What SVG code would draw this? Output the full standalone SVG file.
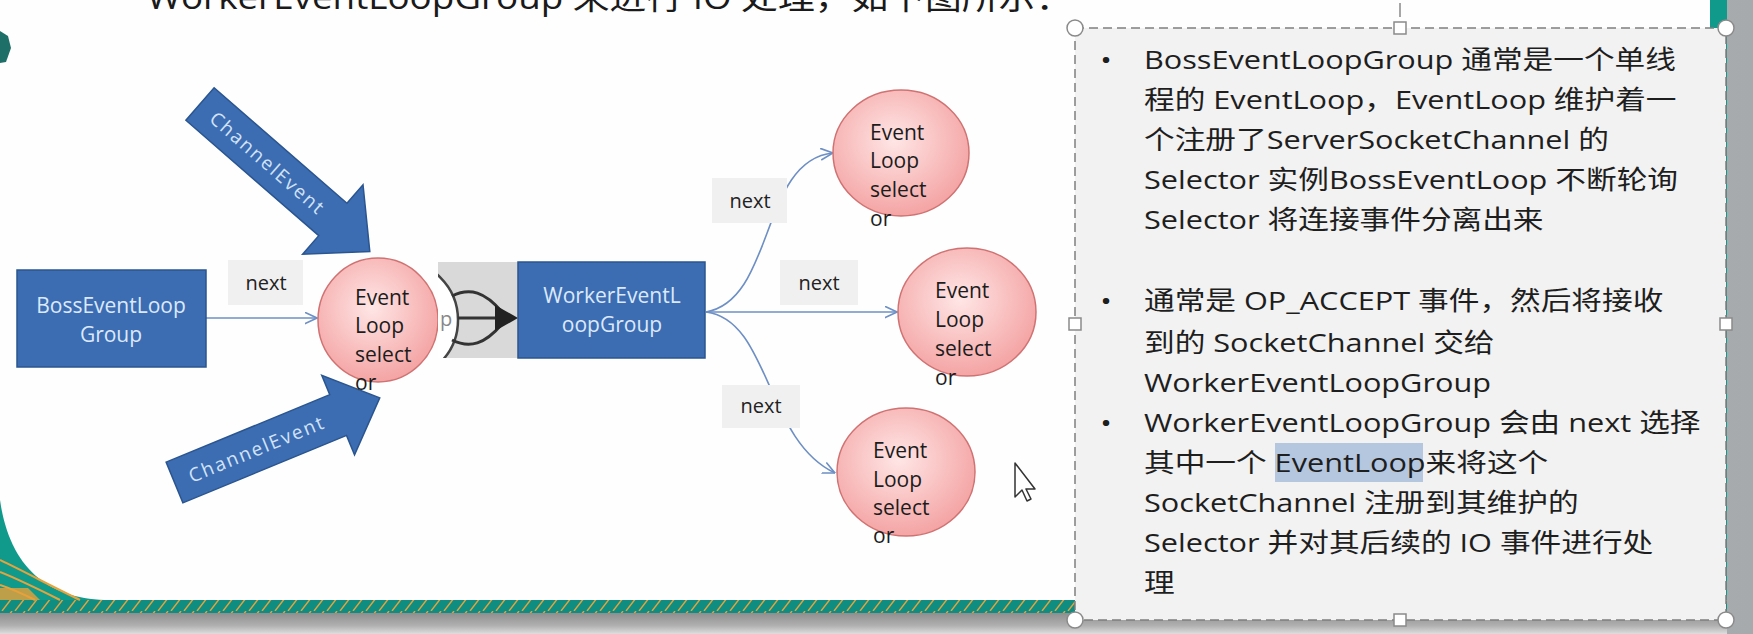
<svg xmlns="http://www.w3.org/2000/svg" width="1753" height="634" viewBox="0 0 1753 634">
<defs>
<radialGradient id="pink" cx="45%" cy="40%" r="62%">
<stop offset="0" stop-color="#ffe6e6"/>
<stop offset="1" stop-color="#f4a2a2"/>
</radialGradient>
<linearGradient id="rgray" x1="0" x2="1" y1="0" y2="0">
<stop offset="0" stop-color="#cfd2d4"/>
<stop offset="1" stop-color="#a6aaad"/>
</linearGradient>
<linearGradient id="bgray" x1="0" x2="0" y1="0" y2="1">
<stop offset="0" stop-color="#8e8e8e"/>
<stop offset="0.6" stop-color="#b0b0b0"/>
<stop offset="1" stop-color="#dedede"/>
</linearGradient>
<pattern id="band" width="26" height="13" patternUnits="userSpaceOnUse">
<rect width="26" height="13" fill="#0f8d80"/>
<path d="M2,13 L12,0 M15,13 L25,0" stroke="#e6a23c" stroke-width="1.4"/>
</pattern>
<marker id="open" viewBox="0 0 10 10" refX="9.5" refY="5" markerWidth="13" markerHeight="13" markerUnits="userSpaceOnUse" orient="auto">
<path d="M0,0.5 L9.5,5 L0,9.5" fill="none" stroke="#6d8fc4" stroke-width="1.2"/>
</marker>
<clipPath id="leftOfGray"><rect x="300" y="240" width="138" height="170"/></clipPath>
<clipPath id="inGray"><rect x="438" y="262" width="80" height="96"/></clipPath>
</defs>
<style>
.blue{fill:#3c6db3;stroke:#2a558f;stroke-width:1.5}
.btxt{font-family:"Open Sans","Noto Sans",sans-serif;font-size:21px;fill:#dce9fa;text-anchor:middle}
.atxt{font-family:"Open Sans","Noto Sans",sans-serif;font-size:19px;fill:#d3e3f7;text-anchor:middle;letter-spacing:2px}
.ctxt{font-family:"Open Sans","Noto Sans",sans-serif;font-size:21px;fill:#1c1c1c}
.circ{fill:url(#pink);stroke:#d07272;stroke-width:1.5}
.conn{fill:none;stroke:#6d8fc4;stroke-width:1.6;marker-end:url(#open)}
.nbox{fill:#f0f0f0}
.ntxt{font-family:"Open Sans","Noto Sans",sans-serif;font-size:20px;fill:#222;text-anchor:middle}
.bt{font-family:"Open Sans","Noto Sans CJK SC",sans-serif;font-size:26px;fill:#1e1e1e}
.handle{fill:#fff;stroke:#8a8a8a;stroke-width:1.5}
.fork{fill:none;stroke:#333;stroke-width:3}
</style>

<!-- background -->
<g id="background">
<rect x="0" y="0" width="1753" height="634" fill="url(#rgray)"/>
<rect x="0" y="0" width="1727" height="613" fill="#109a8b"/>
<path d="M0,0 H1710 V600 H110 C50,600 10,570 0,500 Z" fill="#fefefe"/>
<rect x="0" y="600" width="1727" height="13" fill="url(#band)"/>
<rect x="0" y="613" width="1727" height="21" fill="url(#bgray)"/>
<path d="M0,572 C20,580 40,590 60,600 M0,585 C15,590 25,595 35,600 M0,560 C25,572 55,588 80,600" fill="none" stroke="#e6a23c" stroke-width="2"/>
<path d="M0,588 L28,588 L40,600 L0,600 Z" fill="#e8a03a" opacity="0.8"/>
<path d="M0,31 L8,36 L11,48 L6,62 L0,63 Z" fill="#1f6f69"/>
</g>

<!-- title -->
<g id="title" transform="translate(147,0) scale(1.15,1)">
<text x="0" y="9" font-family="'Open Sans','Noto Sans CJK SC',sans-serif" font-size="32" fill="#1a1a1a">WorkerEventLoopGroup 来进行 IO 处理，如下图所示：</text>
</g>

<!-- block arrows -->
<g id="channelEventTop" transform="translate(200,104) rotate(41)">
<polygon class="blue" points="0,-21.5 176,-21.5 176,-46 225,0 176,46 176,21.5 0,21.5"/>
<text class="atxt" x="90" y="7">ChannelEvent</text>
</g>
<g id="channelEventBottom" transform="translate(174.5,482.5) rotate(-22.4)">
<polygon class="blue" points="0,-22 177,-22 177,-43 222,0 177,43 177,22 0,22"/>
<text class="atxt" x="89" y="7">ChannelEvent</text>
</g>

<!-- connectors -->
<g id="connectors">
<path class="conn" d="M206,318 L317,318"/>
<path class="conn" d="M706,312 C775,300 760,160 833,153"/>
<path class="conn" d="M706,312 L897,312"/>
<path class="conn" d="M706,312 C770,320 765,440 835,473"/>
<rect class="nbox" x="228" y="260" width="75" height="45"/>
<text class="ntxt" x="266" y="290">next</text>
<rect class="nbox" x="712" y="178" width="75" height="45"/>
<text class="ntxt" x="750" y="208">next</text>
<rect class="nbox" x="780" y="260" width="78" height="45"/>
<text class="ntxt" x="819" y="290">next</text>
<rect class="nbox" x="722" y="385" width="78" height="43"/>
<text class="ntxt" x="761" y="413">next</text>
</g>

<!-- nodes -->
<g id="bossGroup">
<rect class="blue" x="17" y="270" width="189" height="97"/>
<text class="btxt" x="111" y="313">BossEventLoop</text>
<text class="btxt" x="111" y="342">Group</text>
</g>

<g id="bossEventLoop">
<rect x="438" y="262" width="80" height="96" fill="#d9d9d9"/>
<g clip-path="url(#inGray)">
<circle cx="398" cy="320" r="60" fill="#ffffff" stroke="#444" stroke-width="2.5"/>
<text x="440" y="326" font-family="'Open Sans',sans-serif" font-size="20" fill="#888">p</text>
</g>
<path class="fork" d="M458,318 L500,318"/>
<path class="fork" d="M452,296 C470,287 485,292 502,312"/>
<path class="fork" d="M452,340 C470,349 485,344 502,324"/>
<polygon points="495,305 518,318 495,331" fill="#222"/>
<ellipse class="circ" cx="378" cy="320" rx="60" ry="62" clip-path="url(#leftOfGray)"/>
<text class="ctxt" x="355" y="305">Event</text>
<text class="ctxt" x="355" y="333">Loop</text>
<text class="ctxt" x="355" y="362">select</text>
<text class="ctxt" x="355" y="390">or</text>
</g>

<g id="workerGroup">
<rect class="blue" x="518" y="262" width="187" height="96"/>
<text class="btxt" x="612" y="303">WorkerEventL</text>
<text class="btxt" x="612" y="332">oopGroup</text>
</g>

<g id="eventLoop1">
<ellipse class="circ" cx="901" cy="153" rx="68" ry="63"/>
<text class="ctxt" x="870" y="140">Event</text>
<text class="ctxt" x="870" y="168">Loop</text>
<text class="ctxt" x="870" y="197">select</text>
<text class="ctxt" x="870" y="226">or</text>
</g>
<g id="eventLoop2">
<ellipse class="circ" cx="967" cy="312" rx="69" ry="64"/>
<text class="ctxt" x="935" y="298">Event</text>
<text class="ctxt" x="935" y="327">Loop</text>
<text class="ctxt" x="935" y="356">select</text>
<text class="ctxt" x="935" y="385">or</text>
</g>
<g id="eventLoop3">
<ellipse class="circ" cx="906" cy="472" rx="69" ry="64"/>
<text class="ctxt" x="873" y="458">Event</text>
<text class="ctxt" x="873" y="487">Loop</text>
<text class="ctxt" x="873" y="515">select</text>
<text class="ctxt" x="873" y="543">or</text>
</g>

<!-- cursor -->
<g id="cursor">
<polygon points="1015,463 1015,497 1022,490 1027,501 1031,499 1026,489 1035,489" fill="#fff" stroke="#333" stroke-width="1.5" stroke-linejoin="round"/>
</g>

<!-- text box -->
<g id="noteBox">
<line x1="1400" y1="3" x2="1400" y2="17" stroke="#888" stroke-width="1.5"/>
<rect x="1075" y="28" width="651" height="592" fill="#f2f2f2" stroke="#7f7f7f" stroke-width="1.5" stroke-dasharray="9,5"/>
<rect x="1275" y="443" width="148" height="39" fill="#b5c7df"/>
<g transform="translate(1144,0) scale(1.18,1)">
<text class="bt" x="-37" y="69">•</text>
<text class="bt" x="0" y="69">BossEventLoopGroup 通常是一个单线</text>
<text class="bt" x="0" y="109">程的 EventLoop，EventLoop 维护着一</text>
<text class="bt" x="0" y="149">个注册了ServerSocketChannel 的</text>
<text class="bt" x="0" y="189">Selector 实例BossEventLoop 不断轮询</text>
<text class="bt" x="0" y="229">Selector 将连接事件分离出来</text>
<text class="bt" x="-37" y="310">•</text>
<text class="bt" x="0" y="310">通常是 OP_ACCEPT 事件，然后将接收</text>
<text class="bt" x="0" y="352">到的 SocketChannel 交给</text>
<text class="bt" x="0" y="392">WorkerEventLoopGroup</text>
<text class="bt" x="-37" y="432">•</text>
<text class="bt" x="0" y="432">WorkerEventLoopGroup 会由 next 选择</text>
<text class="bt" x="0" y="472">其中一个 EventLoop来将这个</text>
<text class="bt" x="0" y="512">SocketChannel 注册到其维护的</text>
<text class="bt" x="0" y="552">Selector 并对其后续的 IO 事件进行处</text>
<text class="bt" x="0" y="592">理</text>
</g>
<circle class="handle" cx="1075" cy="28" r="8"/>
<circle class="handle" cx="1726" cy="28" r="8"/>
<circle class="handle" cx="1075" cy="620" r="8"/>
<circle class="handle" cx="1726" cy="620" r="8"/>
<rect class="handle" x="1394" y="22" width="12" height="12"/>
<rect class="handle" x="1394" y="614" width="12" height="12"/>
<rect class="handle" x="1069" y="318" width="12" height="12"/>
<rect class="handle" x="1720" y="318" width="12" height="12"/>
</g>
</svg>
